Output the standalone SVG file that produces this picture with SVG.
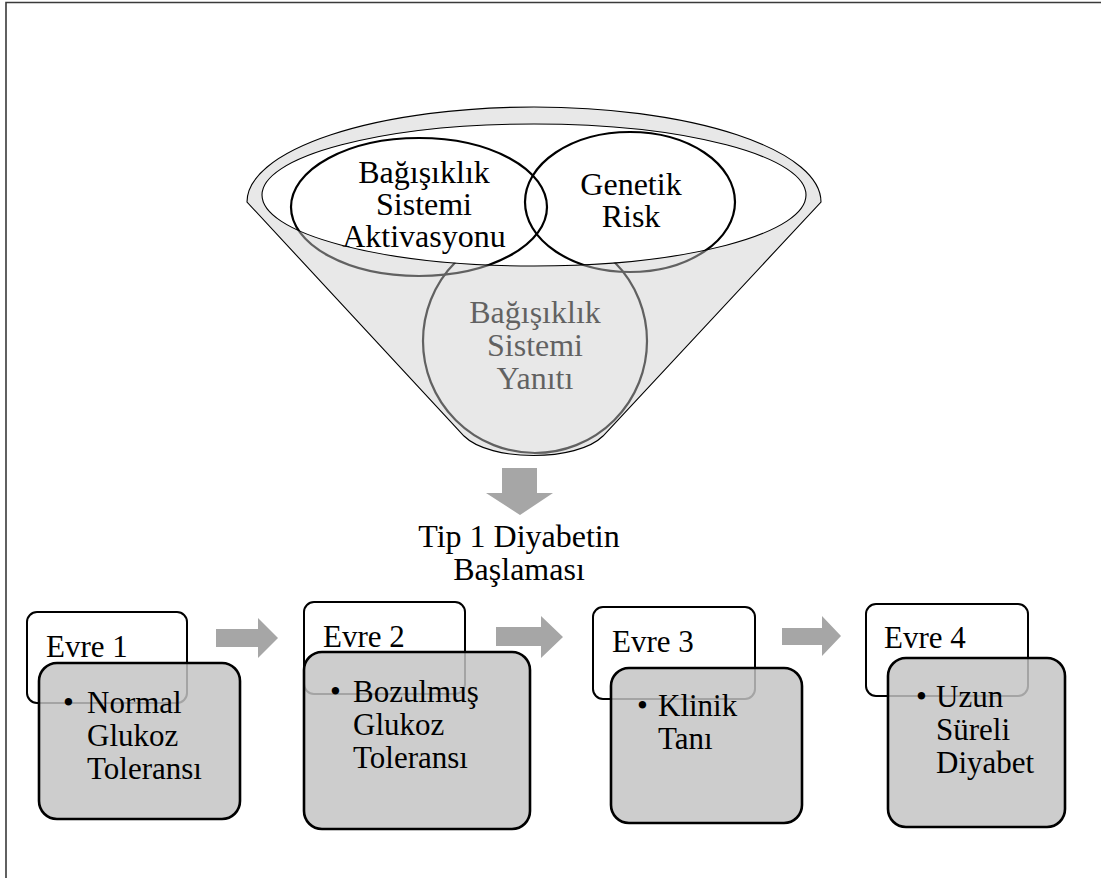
<svg xmlns="http://www.w3.org/2000/svg" width="1101" height="878" viewBox="0 0 1101 878">
<style>
text{font-family:'Liberation Serif','Times New Roman',serif;fill:#000}
.ft{font-size:32px;text-anchor:middle}
.bt{font-size:31px}
.thin{fill:none;stroke:#000;stroke-width:1.1}
.circ{fill:none;stroke:#000;stroke-width:2.2}
.wbox{fill:#fff;stroke:#000;stroke-width:2}
.gbox{fill:#c4c4c4;fill-opacity:0.84;stroke:#000;stroke-width:2.6}
.arr{fill:#a6a6a6}
</style>
<rect width="1101" height="878" fill="#fff"/>
<g id="frame"><path d="M6,878 V2.5 H1101" fill="none" stroke="#3a3a3a" stroke-width="1.6"/></g>

<g id="funnel">
  <path id="funnelShape" d="M247,202 A287,95 0 0 1 821,202 L603,436 C577,462 490,462 464,436 Z" fill="#e8e8e8"/>
</g>
<g id="node-yanit">
  <circle cx="535" cy="341" r="112" class="circ"/>
  <text class="ft" x="535" y="323">Bağışıklık</text>
  <text class="ft" x="535" y="356">Sistemi</text>
  <text class="ft" x="535" y="389">Yanıtı</text>
</g>
<g id="funnel-top">
  <ellipse cx="534" cy="195" rx="272" ry="71" fill="#fff"/>
</g>
<g id="node-aktivasyon">
  <ellipse cx="419" cy="207" rx="128" ry="69" class="circ"/>
  <text class="ft" x="424" y="183">Bağışıklık</text>
  <text class="ft" x="424" y="215">Sistemi</text>
  <text class="ft" x="424" y="247">Aktivasyonu</text>
</g>
<g id="node-genetik">
  <ellipse cx="630" cy="202" rx="105" ry="70" class="circ"/>
  <text class="ft" x="631" y="195">Genetik</text>
  <text class="ft" x="631" y="227">Risk</text>
</g>
<g id="funnel-overlay">
  <path d="M247,202 A287,95 0 0 1 821,202 L603,436 C577,462 490,462 464,436 Z M262,195 A272,71 0 1 0 806,195 A272,71 0 1 0 262,195 Z" fill="#e8e8e8" fill-opacity="0.42" fill-rule="evenodd"/>
  <path d="M247,202 A287,95 0 0 1 821,202 L603,436 C577,462 490,462 464,436 Z" class="thin"/>
  <ellipse cx="534" cy="195" rx="272" ry="71" class="thin"/>
</g>

<g id="title">
  <text class="ft" x="519" y="547">Tip 1 Diyabetin</text>
  <text class="ft" x="519" y="580">Başlaması</text>
</g>

<g id="stage1">
  <rect x="27" y="612" width="160" height="91" rx="10" class="wbox"/>
  <text class="bt" x="46" y="657">Evre 1</text>
  <rect x="39" y="663" width="201" height="156" rx="18" class="gbox"/>
  <text class="bt" x="63" y="713">•</text>
  <text class="bt" x="87" y="713">Normal</text>
  <text class="bt" x="87" y="746">Glukoz</text>
  <text class="bt" x="87" y="779">Toleransı</text>
</g>
<g id="stage2">
  <rect x="304" y="602" width="161" height="92" rx="10" class="wbox"/>
  <text class="bt" x="323" y="647">Evre 2</text>
  <rect x="304" y="652" width="226" height="177" rx="18" class="gbox"/>
  <text class="bt" x="330" y="702">•</text>
  <text class="bt" x="353" y="702">Bozulmuş</text>
  <text class="bt" x="353" y="735">Glukoz</text>
  <text class="bt" x="353" y="768">Toleransı</text>
</g>
<g id="stage3">
  <rect x="593" y="607" width="162" height="92" rx="10" class="wbox"/>
  <text class="bt" x="612" y="652">Evre 3</text>
  <rect x="611" y="668" width="191" height="155" rx="18" class="gbox"/>
  <text class="bt" x="637" y="716">•</text>
  <text class="bt" x="658" y="716">Klinik</text>
  <text class="bt" x="658" y="749">Tanı</text>
</g>
<g id="stage4">
  <rect x="866" y="604" width="162" height="92" rx="10" class="wbox"/>
  <text class="bt" x="884" y="648">Evre 4</text>
  <rect x="888" y="658" width="177" height="169" rx="18" class="gbox"/>
  <text class="bt" x="916" y="707">•</text>
  <text class="bt" x="936" y="707">Uzun</text>
  <text class="bt" x="936" y="740">Süreli</text>
  <text class="bt" x="936" y="773">Diyabet</text>
</g>

<g id="connectors">
  <path class="arr" d="M502,468 H537 V493 H553 L520,515 L486,493 H502 Z"/>
  <path class="arr" d="M216,629 H258 V618 L278,638 L258,658 V647 H216 Z"/>
  <path class="arr" d="M496,627 H541 V616 L563,637 L541,658 V646 H496 Z"/>
  <path class="arr" d="M782,628 H822 V616 L841,636 L822,656 V645 H782 Z"/>
</g>
</svg>
